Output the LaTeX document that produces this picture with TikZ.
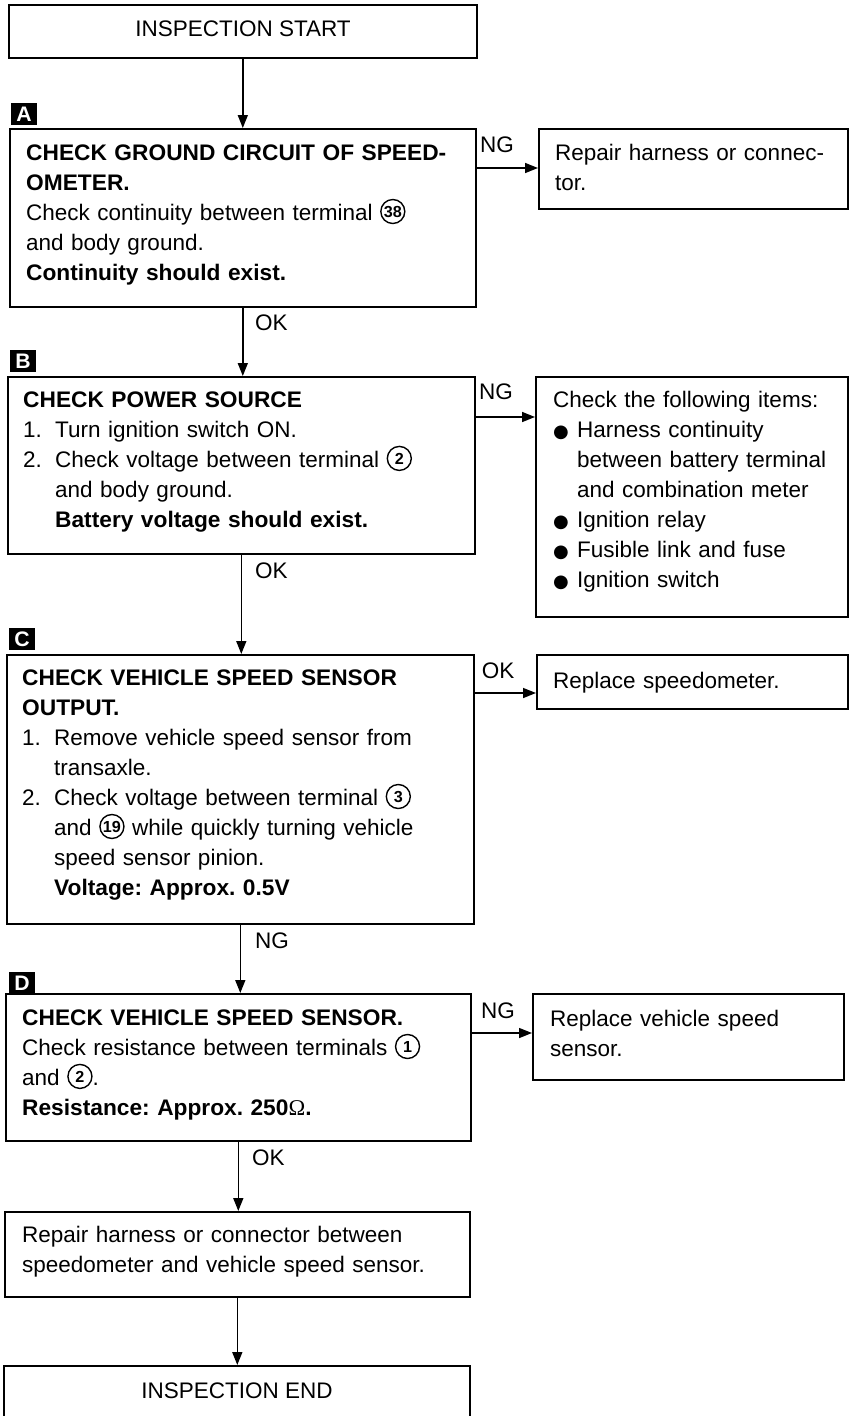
\documentclass[tikz,border=0pt]{standalone}
\usepackage{fontspec}
\setmainfont{Liberation Sans}[BoldFeatures={FakeStretch=1.01}]
\newfontfamily\dejavu{DejaVu Sans}
\newfontfamily\omfont{Liberation Serif}
\usetikzlibrary{arrows.meta}
\newcommand\cnum[1]{\tikz[baseline={([yshift=-3pt]cn.base)}]\node[draw,circle,line width=1.4pt,inner sep=0pt,minimum width=24pt,minimum height=24pt,text width=,anchor=center,font=\fontsize{16}{16}\selectfont\bfseries](cn){#1};}
\newcommand\bul{\makebox[24pt][l]{\hspace{0pt}{\dejavu\fontsize{18}{18}\selectfont ●}}}
\begin{document}
\frenchspacing
\begin{tikzpicture}[x=1pt,y=-1pt,
  box/.style={draw,line width=1.6pt,inner sep=0pt,anchor=north west},
  txt/.style={anchor=base west,inner sep=0pt,text width=#1,align=left,font=\fontsize{22.5}{30}\selectfont\frenchspacing},
  txt/.default=448pt,
  lbl/.style={inner sep=0pt,anchor=base,font=\fontsize{22.5}{22.5}\selectfont},
  tagbox/.style={fill=black,text=white,inner sep=0pt,minimum width=26pt,minimum height=22pt,font=\fontsize{21}{21}\selectfont\bfseries},
  arr/.style={-{Triangle[length=13pt,width=10pt]},line width=1.5pt}]
\useasboundingbox (0,0) rectangle (849,1416);
\clip (0,0) rectangle (849,1416);

% boxes
\node[box,minimum width=468pt,minimum height=53pt] (start) at (8,4) {};
\node[box,minimum width=466pt,minimum height=178pt] (A) at (9,128) {};
\node[box,minimum width=309pt,minimum height=80pt] (R1) at (538,128) {};
\node[box,minimum width=467pt,minimum height=177pt] (B) at (7,376) {};
\node[box,minimum width=312pt,minimum height=240pt] (R2) at (535,376) {};
\node[box,minimum width=467pt,minimum height=269pt] (C) at (6,654) {};
\node[box,minimum width=311pt,minimum height=54pt] (R3) at (536,654) {};
\node[box,minimum width=465pt,minimum height=147pt] (D) at (5,993) {};
\node[box,minimum width=311pt,minimum height=86pt] (R4) at (532,993) {};
\node[box,minimum width=465pt,minimum height=85pt] (E) at (4,1211) {};
\node[box,minimum width=466pt,minimum height=80pt] (end) at (3,1365) {};

% markers
\node[tagbox] (tA) at (24,114) {A};
\node[tagbox] (tB) at (23,361) {B};
\node[tagbox] (tC) at (22,639) {C};
\node[tagbox] (tD) at (22,983) {D};

% texts
\node[lbl] (tstart) at (243,36) {INSPECTION START};
\node[txt] (tAx) at (26,160) {\textbf{CHECK GROUND CIRCUIT OF SPEED-}\\
\textbf{OMETER.}\\
Check continuity between terminal \cnum{38}\\
and body ground.\\
\textbf{Continuity should exist.}};
\node[txt=290pt] (tR1) at (555,160) {Repair harness or connec-\\tor.};
\node[txt] (tBx) at (23,407) {\textbf{CHECK POWER SOURCE}\\
\makebox[32pt][l]{1.}Turn ignition switch ON.\\
\makebox[32pt][l]{2.}Check voltage between terminal \cnum{2}\\
\hspace*{32pt}and body ground.\\
\hspace*{32pt}\textbf{Battery voltage should exist.}};
\node[txt=290pt] (tR2) at (553,407) {Check the following items:\\
\bul Harness continuity\\
\hspace*{24pt}between battery terminal\\
\hspace*{24pt}and combination meter\\
\bul Ignition relay\\
\bul Fusible link and fuse\\
\bul Ignition switch};
\node[txt] (tCx) at (22,685) {\textbf{CHECK VEHICLE SPEED SENSOR}\\
\textbf{OUTPUT.}\\
\makebox[32pt][l]{1.}Remove vehicle speed sensor from\\
\hspace*{32pt}transaxle.\\
\makebox[32pt][l]{2.}Check voltage between terminal \cnum{3}\\
\hspace*{32pt}and \cnum{19} while quickly turning vehicle\\
\hspace*{32pt}speed sensor pinion.\\
\hspace*{32pt}\textbf{Voltage: Approx. 0.5V}};
\node[txt=290pt] (tR3) at (553,688) {Replace speedometer.};
\node[txt] (tDx) at (22,1025) {\textbf{CHECK VEHICLE SPEED SENSOR.}\\
Check resistance between terminals \cnum{1}\\
and \cnum{2}.\\
\textbf{Resistance: Approx. 250{\omfont\mdseries Ω}.}};
\node[txt=290pt] (tR4) at (550,1026) {Replace vehicle speed\\sensor.};
\node[txt] (tEx) at (22,1242) {Repair harness or connector between\\speedometer and vehicle speed sensor.};
\node[lbl] (tend) at (237,1398) {INSPECTION END};

% connectors
\draw[arr] (start.south) -- (start.south |- A.north);
\draw[arr] (A.south) -- (A.south |- B.north);
\draw[arr] (B.south) -- (B.south |- C.north);
\draw[arr] (C.south) -- (C.south |- D.north);
\draw[arr] (D.south) -- (D.south |- E.north);
\draw[arr] (E.south) -- (E.south |- end.north);
\draw[arr] (A.east |- 0,168) -- (R1.west |- 0,168);
\draw[arr] (B.east |- 0,417) -- (R2.west |- 0,417);
\draw[arr] (C.east |- 0,693) -- (R3.west |- 0,693);
\draw[arr] (D.east |- 0,1033) -- (R4.west |- 0,1033);

% connector labels
\node[lbl] (lA) at (497,152) {NG};
\node[lbl] (lB) at (496,399) {NG};
\node[lbl] (lC) at (498,678) {OK};
\node[lbl] (lD) at (498,1018) {NG};
\node[lbl,anchor=base west] (lAB) at (255,330) {OK};
\node[lbl,anchor=base west] (lBC) at (255,578) {OK};
\node[lbl,anchor=base west] (lCD) at (255,948) {NG};
\node[lbl,anchor=base west] (lDE) at (252,1165) {OK};
\end{tikzpicture}
\end{document}
